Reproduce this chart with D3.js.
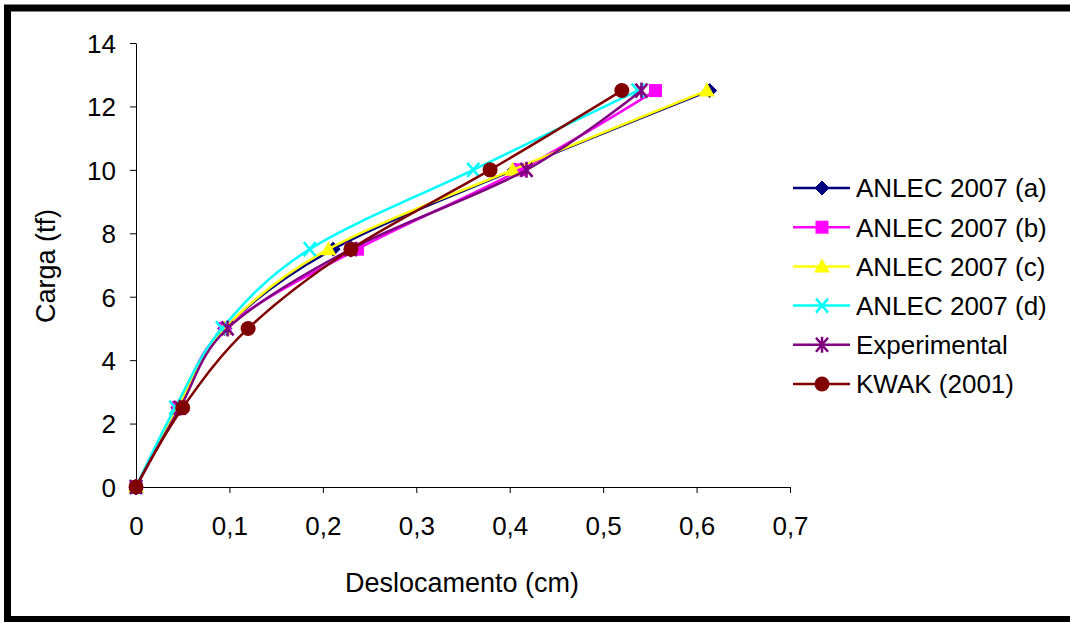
<!DOCTYPE html>
<html><head><meta charset="utf-8">
<script src="https://cdn.jsdelivr.net/npm/d3@7"></script>
<style>html,body{margin:0;padding:0;background:#fff;overflow:hidden}text{font-family:"Liberation Sans",Arial,sans-serif;fill:#000}</style>
</head><body>
<svg id="c" width="1070" height="622"></svg>
<script>
const loads = [0, 2.5, 5, 7.5, 10, 12.5];
const seriesNames = ["ANLEC 2007 (a)", "ANLEC 2007 (b)", "ANLEC 2007 (c)", "ANLEC 2007 (d)", "Experimental", "KWAK (2001)"];
const dispA = [0, 0.045, 0.095, 0.211, 0.405, 0.614];
const dispB = [0, 0.045, 0.095, 0.237, 0.411, 0.556];
const dispC = [0, 0.045, 0.095, 0.206, 0.403, 0.611];
const dispD = [0, 0.042, 0.092, 0.186, 0.361, 0.537];
const dispE = [0, 0.047, 0.098, 0.230, 0.418, 0.541];
const dispK = [0, 0.050, 0.120, 0.230, 0.379, 0.520];
const xTicks = [0, 0.1, 0.2, 0.3, 0.4, 0.5, 0.6, 0.7];
const yTicks = [0, 2, 4, 6, 8, 10, 12, 14];
const colors = ["#000080", "#FF00FF", "#FFFF00", "#00FFFF", "#800080", "#800000"];
const markers = ["diamond", "square", "triangle", "x", "star", "circle"];
const allDisp = [dispA, dispB, dispC, dispD, dispE, dispK];

const svg = d3.select("#c");
const x = d3.scaleLinear().domain([0, 0.7]).range([136, 790]);
const y = d3.scaleLinear().domain([0, 14]).range([487, 43]);

// border
svg.append("rect").attr("x", 7.5).attr("y", 8).attr("width", 1100).attr("height", 611.5)
  .attr("fill", "none").attr("stroke", "#000").attr("stroke-width", 7);

const fmt = d => String(d).replace(".", ",");
const xa = svg.append("g").attr("transform", "translate(0,487)")
  .call(d3.axisBottom(x).tickValues(xTicks).tickFormat(fmt).tickSize(6).tickSizeOuter(0));
const ya = svg.append("g").attr("transform", "translate(136,0)")
  .call(d3.axisLeft(y).tickValues(yTicks).tickFormat(d => d).tickSize(6).tickSizeOuter(0));
[xa, ya].forEach(a => {
  a.select(".domain").attr("stroke", "#000");
  a.selectAll(".tick line").attr("stroke", "#000");
  a.selectAll("text").style("font-size", "26px").attr("fill", "#000");
});
xa.selectAll("text").attr("y", 0).attr("dy", 0).attr("transform", "translate(0,48)");
ya.selectAll("text").attr("x", -20).attr("dy", "0.36em");

svg.append("text").attr("x", 462).attr("y", 592).attr("text-anchor", "middle")
  .style("font-size", "27px").text("Deslocamento (cm)");
svg.append("text").attr("transform", "translate(55,266) rotate(-90)").attr("text-anchor", "middle")
  .style("font-size", "27px").text("Carga (tf)");

function drawMarker(g, type, color, cx, cy) {
  const s = 7;
  if (type === "diamond") g.append("path").attr("d", `M${cx},${cy - s}L${cx + s},${cy}L${cx},${cy + s}L${cx - s},${cy}Z`).attr("fill", color).attr("stroke", color);
  else if (type === "square") g.append("rect").attr("x", cx - 6.5).attr("y", cy - 6.5).attr("width", 13).attr("height", 13).attr("fill", color);
  else if (type === "triangle") g.append("path").attr("d", `M${cx},${cy - 8}L${cx + 8},${cy + 6}L${cx - 8},${cy + 6}Z`).attr("fill", color);
  else if (type === "x") g.append("path").attr("d", `M${cx - 6},${cy - 7}L${cx + 6},${cy + 7}M${cx + 6},${cy - 7}L${cx - 6},${cy + 7}`).attr("stroke", color).attr("stroke-width", 2.5);
  else if (type === "star") g.append("path").attr("d", `M${cx - 6},${cy - 7}L${cx + 6},${cy + 7}M${cx + 6},${cy - 7}L${cx - 6},${cy + 7}M${cx},${cy - 8}L${cx},${cy + 8}`).attr("stroke", color).attr("stroke-width", 2.5);
  else if (type === "circle") g.append("circle").attr("cx", cx).attr("cy", cy).attr("r", 7.5).attr("fill", color);
}

const line = d3.line().x(d => x(d[0])).y(d => y(d[1])).curve(d3.curveCardinal.tension(0));
allDisp.forEach((disp, i) => {
  const pts = disp.map((v, j) => [v, loads[j]]);
  const g = svg.append("g");
  g.append("path").attr("d", line(pts)).attr("fill", "none").attr("stroke", colors[i]).attr("stroke-width", 2.5);
  pts.forEach(p => drawMarker(g, markers[i], colors[i], x(p[0]), y(p[1])));
});

// legend
seriesNames.forEach((n, i) => {
  const cy = 188 + i * 39.2;
  const g = svg.append("g");
  g.append("line").attr("x1", 793).attr("x2", 850).attr("y1", cy).attr("y2", cy).attr("stroke", colors[i]).attr("stroke-width", 2.5);
  drawMarker(g, markers[i], colors[i], 822, cy);
  g.append("text").attr("x", 856).attr("y", cy).attr("dy", "0.36em").style("font-size", "26px").text(n);
});
</script>
</body></html>
